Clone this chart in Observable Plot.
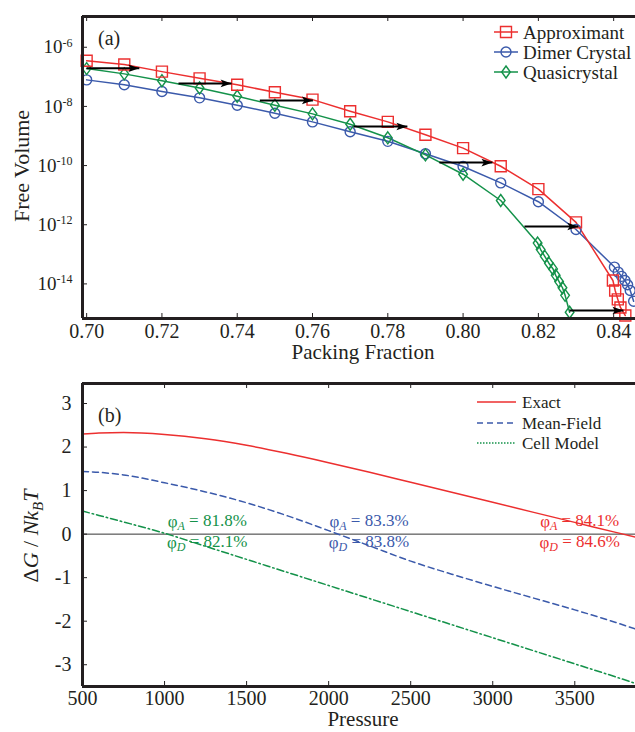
<!DOCTYPE html>
<html><head><meta charset="utf-8">
<script src="https://cdn.jsdelivr.net/npm/d3@7"></script>
<script src="https://cdn.jsdelivr.net/npm/@observablehq/plot@0.6"></script>
<style>
body{margin:0;background:#fff;}
#chart{width:635px;height:732px;overflow:hidden;}
svg{display:block;}
</style></head><body><div id="chart"></div>
<script>
// ---------- Panel (a) data ----------
const phiApprox = [0.70,0.71,0.72,0.73,0.74,0.75,0.76,0.77,0.78,0.79,0.80,0.81,0.82,0.83,0.8398,0.8404,0.8411,0.8418,0.8431];
const fvApprox  = [3.5e-7,2.6e-7,1.5e-7,8.9e-8,5.4e-8,3.0e-8,1.7e-8,6.9e-9,3.0e-9,1.1e-9,3.9e-10,9.5e-11,1.6e-11,1.2e-12,1.3e-14,6.0e-15,3.0e-15,1.6e-15,8.5e-16];
const phiDimer  = [0.70,0.71,0.72,0.73,0.74,0.75,0.76,0.77,0.78,0.79,0.80,0.81,0.82,0.83,0.8402,0.8412,0.8421,0.8430,0.8437,0.8444,0.8453];
const fvDimer   = [7.9e-8,5.4e-8,3.2e-8,1.95e-8,1.1e-8,5.9e-9,3.0e-9,1.4e-9,6.6e-10,2.5e-10,9.3e-11,2.6e-11,6.0e-12,6.9e-13,3.7e-14,2.5e-14,1.8e-14,1.3e-14,9.3e-15,6.0e-15,2.6e-15];
const phiQuasi  = [0.70,0.71,0.72,0.73,0.74,0.75,0.76,0.77,0.78,0.79,0.80,0.81,0.8198,0.8206,0.8217,0.8228,0.8239,0.8246,0.8255,0.8264,0.8271,0.8283];
const fvQuasi   = [1.9e-7,1.26e-7,7.4e-8,4.2e-8,2.2e-8,1.1e-8,5.6e-9,2.5e-9,8.7e-10,2.3e-10,5.1e-11,6.6e-12,2.4e-13,1.45e-13,8.5e-14,5.0e-14,3.2e-14,1.95e-14,1.2e-14,7.4e-15,4.1e-15,1.1e-15];
const arrowFrom = [0.700,0.7244,0.7460,0.7709,0.7937,0.8163,0.8283];
const arrowTo   = [0.714,0.7385,0.7601,0.7852,0.8078,0.8306,0.8426];
const arrowFV   = [1.95e-7,6.0e-8,1.6e-8,2.1e-9,1.26e-10,8.7e-13,1.26e-15];
const xTicksA = [0.70,0.72,0.74,0.76,0.78,0.80,0.82,0.84];
const yTicksA = [1e-6,1e-8,1e-10,1e-12,1e-14];
const seriesA = ["Approximant","Dimer Crystal","Quasicrystal"];

// ---------- Panel (b) data ----------
const pressure  = [500,600,750,1000,1250,1500,1750,2000,2250,2500,2750,3000,3250,3500,3750,3870];
const exact     = [2.30,2.325,2.335,2.29,2.19,2.04,1.85,1.64,1.42,1.19,0.96,0.73,0.50,0.27,0.04,-0.07];
const meanField = [1.44,1.42,1.36,1.18,0.97,0.72,0.42,0.08,-0.27,-0.62,-0.92,-1.20,-1.47,-1.74,-2.03,-2.18];
const cellModel = [0.53,0.43,0.28,0.02,-0.28,-0.58,-0.88,-1.18,-1.48,-1.78,-2.08,-2.38,-2.68,-2.98,-3.28,-3.43];
const seriesB = ["Exact","Mean-Field","Cell Model"];
const xTicksB = [500,1000,1500,2000,2500,3000,3500];
const yTicksB = [-3,-2,-1,0,1,2,3];
const phiPressure = [1260,2246,3530];
const phiAvals = ["81.8","83.3","84.1"];
const phiDvals = ["82.1","83.8","84.6"];

// ---------- styles ----------
const font = "'Liberation Serif','Times New Roman',Times,serif";
const ink = "#231f20";
const red = "#ec2f2f", blue = "#3b5aab", green = "#14924a";
const W = 635, ML = 82;

const diamondSym = {draw(ctx, size){ const r=Math.sqrt(size/Math.PI); const w=r*0.72, h=r*1.0; ctx.moveTo(0,-h); ctx.lineTo(w,0); ctx.lineTo(0,h); ctx.lineTo(-w,0); ctx.closePath(); }};
const arrowHead = {draw(ctx){ ctx.moveTo(0,0); ctx.lineTo(-11,-3.8); ctx.lineTo(-8.5,0); ctx.lineTo(-11,3.8); ctx.closePath(); }};

// ---------- Panel (a) ----------
const approx = phiApprox.map((x,i)=>({x, v: fvApprox[i]}));
const dimer  = phiDimer.map((x,i)=>({x, v: fvDimer[i]}));
const quasi  = phiQuasi.map((x,i)=>({x, v: fvQuasi[i]}));
const arrows = arrowFrom.map((x1,i)=>({x1, x2: arrowTo[i], v: arrowFV[i]}));
const xDomA = [0.6989, 0.8458];
const yDomA = [Math.pow(10,-15.17), Math.pow(10,-4.96)];
const hA = 365, mtA = 16, mbA = 47;
const fhA = hA - mtA - mbA, fw = W - ML;

const plotA = Plot.plot({
  width: W, height: hA, marginTop: mtA, marginBottom: mbA, marginLeft: ML, marginRight: 0,
  style: {fontFamily: font, fontSize: "19px", color: ink, background: "white"},
  x: {domain: xDomA, axis: null},
  y: {type: "log", domain: yDomA, axis: null},
  marks: [
    Plot.line(dimer, {x:"x", y:"v", stroke: blue, strokeWidth: 1.5}),
    Plot.line(quasi, {x:"x", y:"v", stroke: green, strokeWidth: 1.5}),
    Plot.line(approx, {x:"x", y:"v", stroke: red, strokeWidth: 1.5}),
    Plot.dot(dimer, {x:"x", y:"v", r: 5, stroke: blue, fill: "none", strokeWidth: 1.4}),
    Plot.dot(quasi, {x:"x", y:"v", symbol: diamondSym, r: 6, stroke: green, fill: "none", strokeWidth: 1.4}),
    Plot.dot(approx, {x:"x", y:"v", symbol: "square", r: 6.2, stroke: red, fill: "none", strokeWidth: 1.4}),
    Plot.link(arrows, {x1:"x1", x2:"x2", y1:"v", y2:"v", stroke: "black", strokeWidth: 2}),
    Plot.dot(arrows, {x:"x2", y:"v", symbol: arrowHead, fill: "black", stroke: "none", r: 5}),
    Plot.tickX(xTicksA, {x: d=>d, insetTop: fhA-5, stroke: ink}),
    Plot.tickX(xTicksA, {x: d=>d, insetBottom: fhA-5, stroke: ink}),
    Plot.tickY(yTicksA, {y: d=>d, insetRight: fw-5, stroke: ink}),
    Plot.axisX(xTicksA, {tickSize: 0, tickPadding: 5, tickFormat: d3.format(".2f"), label: null, fontSize: 20}),
    Plot.axisY(yTicksA, {tickSize: 0, tickPadding: 10, tickFormat: d => String(Math.round(Math.log10(d))), label: null}),
    Plot.ruleX([xDomA[0]], {stroke: ink, strokeWidth: 3}),
    Plot.ruleY([yDomA[0]], {stroke: ink, strokeWidth: 3}),
    Plot.ruleY([yDomA[1]], {stroke: ink, strokeWidth: 3})
  ]
});

// superscript exponents
d3.select(plotA).selectAll('g[aria-label="y-axis tick label"] text').each(function(){
  const t = d3.select(this); const e = t.text(); if (!e) return;
  t.text("10"); t.append("tspan").attr("dy","-0.55em").attr("font-size","12px").text(e);
});
{
  const s = d3.select(plotA);
  const g = s.append("g").attr("font-family", font).attr("fill", ink).attr("text-anchor", "start");
  g.append("text").attr("x", 98).attr("y", 45).attr("font-size", 20).text("(a)");
  g.append("text").attr("x", 363).attr("y", 359).attr("text-anchor","middle").attr("font-size", 21).text("Packing Fraction");
  g.append("text").attr("transform","translate(29,166) rotate(-90)").attr("text-anchor","middle").attr("font-size", 22).text("Free Volume");
  const colsA = [red, blue, green];
  const symsA = [d3.symbolSquare, d3.symbolCircle, diamondSym];
  const rA = [6.2, 5, 6];
  const rowsA = [32, 52, 72];
  seriesA.forEach((name, i) => {
    const y = rowsA[i];
    g.append("line").attr("x1", 494).attr("x2", 518).attr("y1", y).attr("y2", y).attr("stroke", colsA[i]).attr("stroke-width", 1.5);
    g.append("path").attr("d", d3.symbol(symsA[i], rA[i]*rA[i]*Math.PI)()).attr("transform", `translate(506,${y})`)
      .attr("fill","none").attr("stroke", colsA[i]).attr("stroke-width", 1.4);
    g.append("text").attr("x", 523).attr("y", y).attr("dy","0.35em").attr("text-anchor","start").attr("font-size", 19).text(name);
  });
}

// ---------- Panel (b) ----------
const rowsB = pressure.flatMap((p,i)=>[
  {p, g: exact[i], s: seriesB[0]},
  {p, g: meanField[i], s: seriesB[1]},
  {p, g: cellModel[i], s: seriesB[2]}
]);
const phiLabels = phiPressure.flatMap((p,i)=>[
  {p, g: 0.28, t: `φA = ${phiAvals[i]}%`, c: [green, blue, red][i]},
  {p, g: -0.19, t: `φD = ${phiDvals[i]}%`, c: [green, blue, red][i]}
]);
const xDomB = [500, 3870];
const yDomB = [-3.5, 3.46];
const hB = 367, mtB = 18, mbB = 46;
const fhB = hB - mtB - mbB;

const plotB = Plot.plot({
  width: W, height: hB, marginTop: mtB, marginBottom: mbB, marginLeft: ML, marginRight: 0,
  style: {fontFamily: font, fontSize: "19px", color: ink, background: "white"},
  x: {domain: xDomB, axis: null},
  y: {domain: yDomB, axis: null},
  marks: [
    Plot.ruleY([0], {stroke: "#333", strokeWidth: 1}),
    Plot.line(rowsB.filter(d=>d.s===seriesB[2]), {x:"p", y:"g", stroke: green, strokeWidth: 1.5, strokeDasharray: "7,3,1.5,3", curve: "monotone-x"}),
    Plot.line(rowsB.filter(d=>d.s===seriesB[1]), {x:"p", y:"g", stroke: blue, strokeWidth: 1.5, strokeDasharray: "6,4", curve: "monotone-x"}),
    Plot.line(rowsB.filter(d=>d.s===seriesB[0]), {x:"p", y:"g", stroke: red, strokeWidth: 1.5, curve: "monotone-x"}),
    Plot.text(phiLabels, {x:"p", y:"g", text:"t", fill:"c", fontSize: 17, textAnchor: "middle", lineAnchor: "middle"}),
    Plot.tickX(xTicksB, {x: d=>d, insetTop: fhB-5, stroke: ink}),
    Plot.tickX(xTicksB, {x: d=>d, insetBottom: fhB-5, stroke: ink}),
    Plot.tickY(yTicksB, {y: d=>d, insetRight: fw-5, stroke: ink}),
    Plot.axisX(xTicksB, {tickSize: 0, tickPadding: 4, tickFormat: d => String(d), label: null, fontSize: 20}),
    Plot.axisY(yTicksB, {tickSize: 0, tickPadding: 11, tickFormat: d => String(d), label: null, fontSize: 20}),
    Plot.ruleX([xDomB[0]], {stroke: ink, strokeWidth: 3}),
    Plot.ruleY([yDomB[0]], {stroke: ink, strokeWidth: 3}),
    Plot.ruleY([yDomB[1]], {stroke: ink, strokeWidth: 3})
  ]
});

d3.select(plotB).selectAll('text').each(function(){
  const t = d3.select(this); const s = t.text();
  if (s.charAt(0) !== "φ") return;
  const sub = s.charAt(1), rest = s.slice(2);
  t.text("φ");
  t.append("tspan").attr("font-style","italic").attr("font-size","12px").attr("dy","0.25em").text(sub);
  t.append("tspan").attr("dy","-0.25em").text(rest);
});
{
  const s = d3.select(plotB);
  const g = s.append("g").attr("font-family", font).attr("fill", ink).attr("text-anchor", "start");
  g.append("text").attr("x", 98).attr("y", 57).attr("font-size", 20).text("(b)");
  g.append("text").attr("x", 363).attr("y", 726-365).attr("text-anchor","middle").attr("font-size", 21).text("Pressure");
  const yl = g.append("text").attr("transform", `translate(38,${536-365}) rotate(-90)`).attr("text-anchor","middle").attr("font-size", 22);
  yl.append("tspan").text("Δ");
  yl.append("tspan").attr("font-style","italic").text("G");
  yl.append("tspan").text(" / ");
  yl.append("tspan").attr("font-style","italic").text("Nk");
  yl.append("tspan").attr("font-style","italic").attr("font-size", 15).attr("dy","0.3em").text("B");
  yl.append("tspan").attr("font-style","italic").attr("dy","-0.2em").text("T");
  const colsB = [red, blue, green];
  const dashB = [null, "6,4", "1.5,1.5"];
  const rowsY = [402-365, 423-365, 443-365];
  seriesB.forEach((name, i) => {
    const y = rowsY[i];
    const l = g.append("line").attr("x1", 477).attr("x2", 516).attr("y1", y).attr("y2", y).attr("stroke", colsB[i]).attr("stroke-width", 1.5);
    if (dashB[i]) l.attr("stroke-dasharray", dashB[i]);
    g.append("text").attr("x", 522).attr("y", y).attr("dy","0.35em").attr("text-anchor","start").attr("font-size", 17).text(name);
  });
}

document.getElementById("chart").append(plotA, plotB);
</script></body></html>
